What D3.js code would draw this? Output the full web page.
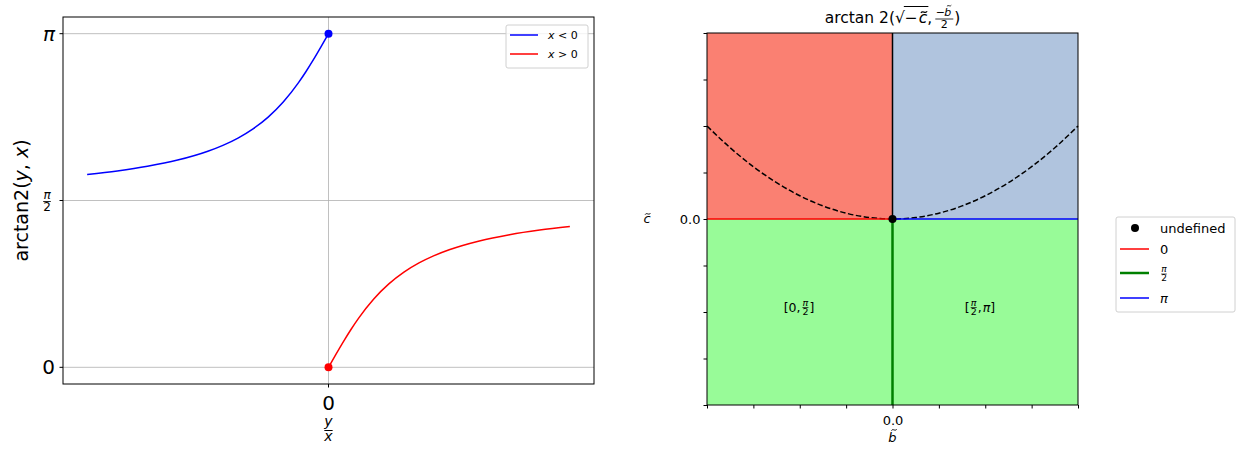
<!DOCTYPE html>
<html><head><meta charset="utf-8">
<script src="https://cdn.jsdelivr.net/npm/d3@7/dist/d3.min.js"></script>
<style>
body{margin:0;background:#fff;}
svg{font-family:"DejaVu Sans",sans-serif;}
</style></head>
<body>
<svg id="c" width="1242" height="451"></svg>
<script>
// ---------- data ----------
const ratioNeg = [-4, -3.5, -3, -2.5, -2, -1.75, -1.5, -1.25, -1, -0.75, -0.5, -0.375, -0.25, -0.125, 0];
const angleNeg = [1.8158, 1.8491, 1.8925, 1.9513, 2.0344, 2.0899, 2.1588, 2.2455, 2.3562, 2.4981, 2.6779, 2.7828, 2.8966, 3.0172, 3.1416];
const ratioPos = [0, 0.125, 0.25, 0.375, 0.5, 0.75, 1, 1.25, 1.5, 1.75, 2, 2.5, 3, 3.5, 4];
const anglePos = [0, 0.1244, 0.2450, 0.3588, 0.4636, 0.6435, 0.7854, 0.8961, 0.9828, 1.0517, 1.1071, 1.1903, 1.2490, 1.2925, 1.3258];
const leftYTicks = [0, Math.PI / 2, Math.PI];
const leftSeries = ["x < 0", "x > 0"];

const bTicks = [-4, -3, -2, -1, 0, 1, 2, 3, 4];
const cTicks = [-4, -3, -2, -1, 0, 1, 2, 3, 4];
const parabB = [-4, -3.5, -3, -2.5, -2, -1.5, -1, -0.5, 0, 0.5, 1, 1.5, 2, 2.5, 3, 3.5, 4];
const parabC = [2, 1.53125, 1.125, 0.78125, 0.5, 0.28125, 0.125, 0.03125, 0, 0.03125, 0.125, 0.28125, 0.5, 0.78125, 1.125, 1.53125, 2];
const rightLegend = ["undefined", "0", "π/2", "π"];

const svg = d3.select("#c");

function frac(g, x, y, num, den, size, opts = {}) {
  const gg = g.append("g");
  const up = opts.up !== undefined ? opts.up : size * 0.18;
  const down = opts.down !== undefined ? opts.down : size * 0.78;
  const t1 = gg.append("text").attr("x", x).attr("y", y - up).attr("text-anchor", "middle")
    .attr("font-size", size).text(num);
  if (opts.numItalic) t1.attr("font-style", "italic");
  const t2 = gg.append("text").attr("x", x).attr("y", y + down).attr("text-anchor", "middle")
    .attr("font-size", size).text(den);
  if (opts.denItalic) t2.attr("font-style", "italic");
  const w = Math.max(t1.node().getComputedTextLength(), t2.node().getComputedTextLength());
  gg.append("line").attr("x1", x - w / 2).attr("x2", x + w / 2).attr("y1", y).attr("y2", y)
    .attr("stroke", "#000").attr("stroke-width", Math.max(0.6, size / 14));
  return w;
}
// italic letter with a tilde accent drawn as a small wave path
function tildeLetter(g, x, y, ch, size, anchor) {
  const t = g.append("text").attr("x", x).attr("y", y).attr("text-anchor", anchor || "start")
    .attr("font-size", size).attr("font-style", "italic").text(ch);
  const w = t.node().getComputedTextLength();
  const cx = (anchor === "middle" ? x : x + w / 2) + size * (ch === "b" ? 0.12 : 0.06);
  const ty = y - size * (ch === "b" ? 0.93 : 0.70);
  const hw = size * 0.2, a = size * 0.09;
  g.append("path")
    .attr("d", `M${cx - hw},${ty + a * 0.6} C${cx - hw * 0.5},${ty - a * 1.6} ${cx + hw * 0.5},${ty + a * 1.6} ${cx + hw},${ty - a * 0.6}`)
    .attr("fill", "none").attr("stroke", "#000").attr("stroke-width", Math.max(0.7, size / 14));
  return w;
}

// ---------- left chart ----------
const L = {x0: 63, x1: 594, y0: 17, y1: 384};
const lx = d3.scaleLinear().domain([-4.4, 4.4]).range([L.x0, L.x1]);
const ly = d3.scaleLinear().domain([-0.157, 3.2986]).range([L.y1, L.y0]);
const lg = svg.append("g");

lg.selectAll(".hg").data(leftYTicks).enter().append("line")
  .attr("x1", L.x0).attr("x2", L.x1).attr("y1", d => ly(d)).attr("y2", d => ly(d))
  .attr("stroke", "#b0b0b0").attr("stroke-width", 0.8);
lg.append("line").attr("x1", lx(0)).attr("x2", lx(0)).attr("y1", L.y0).attr("y2", L.y1)
  .attr("stroke", "#b0b0b0").attr("stroke-width", 0.8);

const lineL = d3.line().x(d => lx(d[0])).y(d => ly(d[1])).curve(d3.curveMonotoneX);
lg.append("path").datum(ratioNeg.map((r, i) => [r, angleNeg[i]])).attr("d", lineL)
  .attr("fill", "none").attr("stroke", "#0000ff").attr("stroke-width", 1.5);
lg.append("path").datum(ratioPos.map((r, i) => [r, anglePos[i]])).attr("d", lineL)
  .attr("fill", "none").attr("stroke", "#ff0000").attr("stroke-width", 1.5);
lg.append("circle").attr("cx", lx(0)).attr("cy", ly(Math.PI)).attr("r", 4).attr("fill", "#0000ff");
lg.append("circle").attr("cx", lx(0)).attr("cy", ly(0)).attr("r", 4).attr("fill", "#ff0000");

lg.append("rect").attr("x", L.x0).attr("y", L.y0).attr("width", L.x1 - L.x0).attr("height", L.y1 - L.y0)
  .attr("fill", "none").attr("stroke", "#000").attr("stroke-width", 1);

leftYTicks.forEach(v => {
  lg.append("line").attr("x1", L.x0 - 3.5).attr("x2", L.x0).attr("y1", ly(v)).attr("y2", ly(v)).attr("stroke", "#000");
});
lg.append("text").attr("x", 55).attr("y", ly(0) + 7).attr("text-anchor", "end").attr("font-size", 20).text("0");
lg.append("text").attr("x", 55).attr("y", ly(Math.PI) + 7).attr("text-anchor", "end").attr("font-size", 20)
  .attr("font-style", "italic").text("π");
frac(lg, 47, ly(Math.PI / 2) + 1, "π", "2", 12, {numItalic: true});
lg.append("line").attr("x1", lx(0)).attr("x2", lx(0)).attr("y1", L.y1).attr("y2", L.y1 + 3.5).attr("stroke", "#000");
lg.append("text").attr("x", lx(0)).attr("y", 410).attr("text-anchor", "middle").attr("font-size", 20).text("0");
frac(lg, lx(0), 430.5, "y", "x", 14, {numItalic: true, denItalic: true, up: 4.5, down: 10});
const yl = lg.append("text").attr("transform", `translate(28,${(L.y0 + L.y1) / 2}) rotate(-90)`)
  .attr("text-anchor", "middle").attr("font-size", 19);
yl.append("tspan").text("arctan2(");
yl.append("tspan").attr("font-style", "italic").text("y");
yl.append("tspan").text(", ");
yl.append("tspan").attr("font-style", "italic").text("x");
yl.append("tspan").text(")");

const leg1 = lg.append("g");
leg1.append("rect").attr("x", 506).attr("y", 25).attr("width", 82).attr("height", 43).attr("rx", 2)
  .attr("fill", "#fff").attr("fill-opacity", 0.8).attr("stroke", "#d0d0d0");
leftSeries.forEach((s, i) => {
  const yy = 35 + i * 19;
  leg1.append("line").attr("x1", 510).attr("x2", 538).attr("y1", yy).attr("y2", yy)
    .attr("stroke", i === 0 ? "#0000ff" : "#ff0000").attr("stroke-width", 1.5);
  const t = leg1.append("text").attr("x", 548).attr("y", yy + 4).attr("font-size", 11);
  t.append("tspan").attr("font-style", "italic").text("x");
  t.append("tspan").text(s.slice(1));
});

// ---------- right chart ----------
const R = {x0: 707, x1: 1078, y0: 33, y1: 405};
const rx = d3.scaleLinear().domain([-4, 4]).range([R.x0, R.x1]);
const ry = d3.scaleLinear().domain([-4, 4]).range([R.y1, R.y0]);
const rg = svg.append("g");

rg.append("rect").attr("x", rx(-4)).attr("y", ry(4)).attr("width", rx(0) - rx(-4)).attr("height", ry(0) - ry(4)).attr("fill", "#fa8072");
rg.append("rect").attr("x", rx(0)).attr("y", ry(4)).attr("width", rx(4) - rx(0)).attr("height", ry(0) - ry(4)).attr("fill", "#b0c4de");
rg.append("rect").attr("x", rx(-4)).attr("y", ry(0)).attr("width", rx(4) - rx(-4)).attr("height", ry(-4) - ry(0)).attr("fill", "#98fb98");

const lineR = d3.line().x(d => rx(d[0])).y(d => ry(d[1])).curve(d3.curveMonotoneX);
rg.append("path").datum(parabB.map((b, i) => [b, parabC[i]])).attr("d", lineR)
  .attr("fill", "none").attr("stroke", "#000").attr("stroke-width", 1.5).attr("stroke-dasharray", "5.5,2.5");

rg.append("line").attr("x1", rx(-4)).attr("x2", rx(0)).attr("y1", ry(0)).attr("y2", ry(0)).attr("stroke", "#ff0000").attr("stroke-width", 1.5);
rg.append("line").attr("x1", rx(0)).attr("x2", rx(4)).attr("y1", ry(0)).attr("y2", ry(0)).attr("stroke", "#0000ff").attr("stroke-width", 1.5);
rg.append("line").attr("x1", rx(0)).attr("x2", rx(0)).attr("y1", ry(0)).attr("y2", ry(-4)).attr("stroke", "#008000").attr("stroke-width", 2.5);
rg.append("line").attr("x1", rx(0)).attr("x2", rx(0)).attr("y1", ry(4)).attr("y2", ry(0)).attr("stroke", "#000").attr("stroke-width", 1.5);
rg.append("circle").attr("cx", rx(0)).attr("cy", ry(0)).attr("r", 4).attr("fill", "#000");

rg.append("rect").attr("x", R.x0).attr("y", R.y0).attr("width", R.x1 - R.x0).attr("height", R.y1 - R.y0)
  .attr("fill", "none").attr("stroke", "#000").attr("stroke-width", 1);

const xAx = rg.append("g").attr("transform", `translate(0,${R.y1})`)
  .call(d3.axisBottom(rx).tickValues(bTicks).tickSize(3.5).tickFormat(d => d === 0 ? "0.0" : ""));
xAx.select(".domain").remove();
xAx.selectAll("text").attr("font-size", 13).attr("font-family", "DejaVu Sans").attr("dy", "1.05em").attr("fill", "#000");
const yAx = rg.append("g").attr("transform", `translate(${R.x0},0)`)
  .call(d3.axisLeft(ry).tickValues(cTicks).tickSize(3.5).tickFormat(d => d === 0 ? "0.0" : ""));
yAx.select(".domain").remove();
yAx.selectAll("text").attr("font-size", 13).attr("font-family", "DejaVu Sans").attr("fill", "#000");

tildeLetter(rg, rx(0), 442, "b", 13, "middle");
tildeLetter(rg, 647, ry(0) + 4, "c", 13, "middle");

function bracketLabel(g, cx, cy, parts) {
  const gg = g.append("g");
  let x = 0;
  parts.forEach(p => {
    if (p.frac) {
      const w = frac(gg, x + 4, cy - 4.5, p.frac[0], p.frac[1], 9.5, {numItalic: true});
      x += w + 2;
    } else {
      const t = gg.append("text").attr("x", x).attr("y", cy).attr("font-size", 12.5).text(p.t);
      if (p.it) t.attr("font-style", "italic");
      x += t.node().getComputedTextLength() + (p.pad || 0);
    }
  });
  gg.attr("transform", `translate(${cx - x / 2},0)`);
}
bracketLabel(rg, 799, 312, [{t: "[0, ", pad: 1}, {frac: ["π", "2"]}, {t: "]"}]);
bracketLabel(rg, 980, 312, [{t: "["}, {frac: ["π", "2"]}, {t: ", ", pad: 1}, {t: "π", it: true}, {t: "]"}]);

// title
const tg = rg.append("g");
let tx = 0;
const TS = 15.5;
function tpiece(s, it) {
  const t = tg.append("text").attr("x", tx).attr("y", 23).attr("font-size", TS).text(s);
  if (it) t.attr("font-style", "italic");
  const w = t.node().getComputedTextLength();
  tx += w;
  return w;
}
tpiece("arctan 2(");
tpiece("√");
const sx = tx;
tpiece("−");
tx += 1;
tx += tildeLetter(tg, tx, 23, "c", TS, "start");
tg.append("line").attr("x1", sx - 1).attr("x2", tx + 1).attr("y1", 6.5).attr("y2", 6.5).attr("stroke", "#000").attr("stroke-width", 1);
tpiece(", ");
tx += 2;
{
  const fg = tg.append("g");
  const cx = tx + 10;
  fg.append("text").attr("x", cx - 4).attr("y", 16).attr("text-anchor", "middle").attr("font-size", 11).text("−");
  tildeLetter(fg, cx + 3.5, 16, "b", 11, "middle");
  fg.append("text").attr("x", cx).attr("y", 28).attr("text-anchor", "middle").attr("font-size", 11).text("2");
  fg.append("line").attr("x1", tx + 1).attr("x2", tx + 19).attr("y1", 19).attr("y2", 19).attr("stroke", "#000").attr("stroke-width", 0.8);
  tx += 20;
}
tpiece(")");
tg.attr("transform", `translate(${rx(0) - tx / 2},0)`);

// right legend
const lg2 = svg.append("g");
lg2.append("rect").attr("x", 1116).attr("y", 217).attr("width", 119).attr("height", 95).attr("rx", 2)
  .attr("fill", "#fff").attr("stroke", "#d0d0d0");
const rowY = [228, 249, 273, 298];
const rowCol = ["#000", "#ff0000", "#008000", "#0000ff"];
rightLegend.forEach((s, i) => {
  const yy = rowY[i];
  if (i === 0) {
    lg2.append("circle").attr("cx", 1135).attr("cy", yy).attr("r", 4).attr("fill", "#000");
  } else {
    lg2.append("line").attr("x1", 1120).attr("x2", 1149).attr("y1", yy).attr("y2", yy)
      .attr("stroke", rowCol[i]).attr("stroke-width", i === 2 ? 2.5 : 1.5);
  }
  if (s === "π/2") {
    frac(lg2, 1164, yy + 1, "π", "2", 9, {numItalic: true});
  } else {
    const t = lg2.append("text").attr("x", 1160).attr("y", yy + 4.5).attr("font-size", 13).text(s);
    if (s === "π") t.attr("font-style", "italic");
  }
});
</script>
</body></html>
